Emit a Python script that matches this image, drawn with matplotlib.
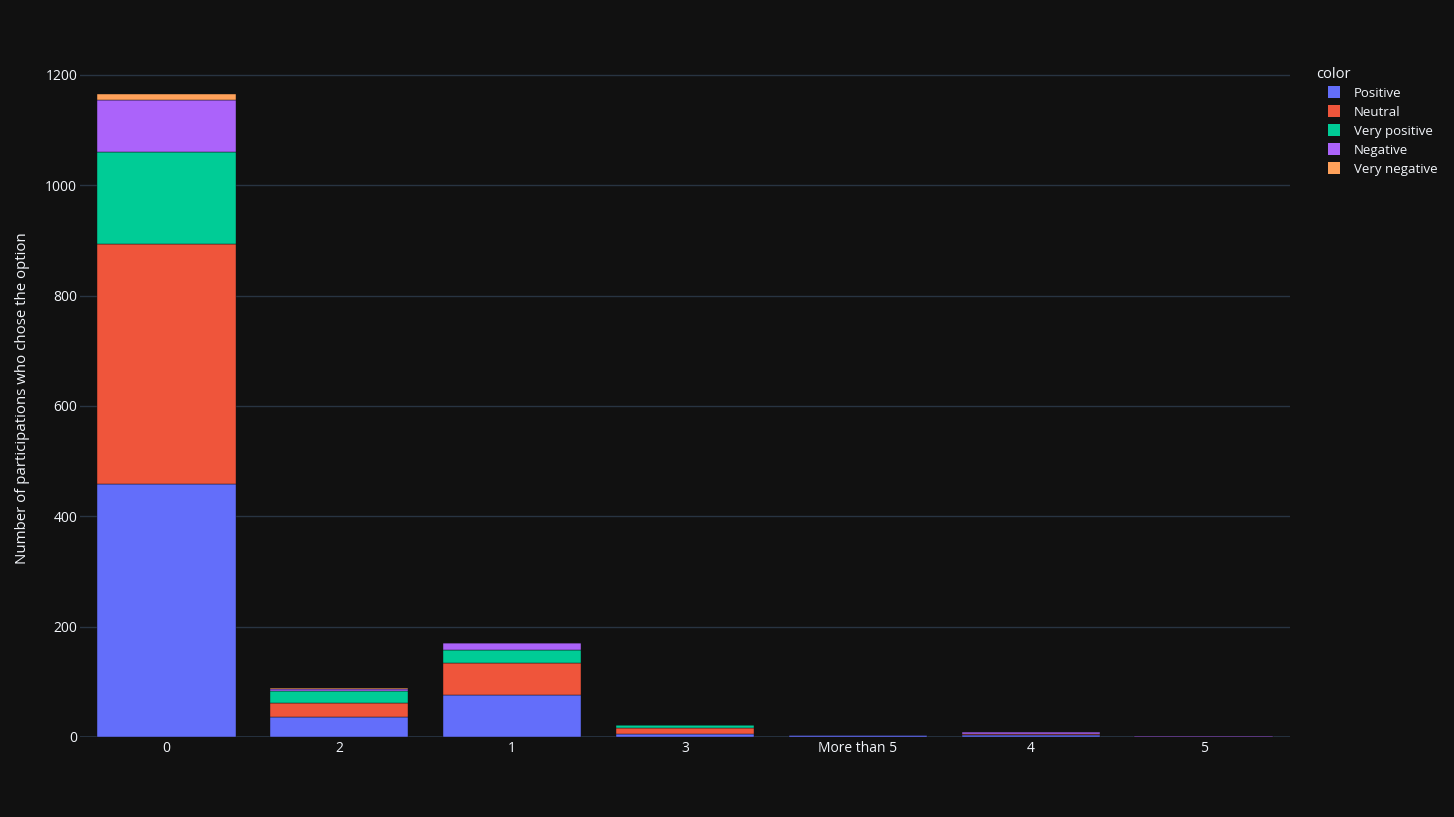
import matplotlib
matplotlib.use("Agg")
import matplotlib.pyplot as plt
from matplotlib.patches import Rectangle
import numpy as np

plt.rcParams['font.family'] = ['Open Sans', 'DejaVu Sans']

# categories in the order they appear on the x axis
options = ['0', '2', '1', '3', 'More than 5', '4', '5']

positive = [459, 36, 76, 6, 3, 3, 0]
neutral = [434, 25, 58, 11, 0, 2, 0]
very_positive = [167, 23, 24, 4, 1, 0, 0]
negative = [95, 3, 12, 0, 0, 4, 1]
very_negative = [11, 2, 1, 0, 0, 0, 0]

series = [
    ('Positive', positive, '#636efa'),
    ('Neutral', neutral, '#EF553B'),
    ('Very positive', very_positive, '#00cc96'),
    ('Negative', negative, '#ab63fa'),
    ('Very negative', very_negative, '#FFA15A'),
]

bg = '#111111'
grid = '#283442'
txt = '#f2f5fa'
W, H = 1454, 817

fig = plt.figure(figsize=(14.54, 8.17), dpi=100, facecolor=bg)
ax = fig.add_axes([80/W, 80/H, (1290-80)/W, (737-60)/H])
ax.set_facecolor(bg)

x = np.arange(len(options))
bottom = np.zeros(len(options))
for name, vals, col in series:
    vals = np.array(vals, dtype=float)
    ax.bar(x, vals, width=0.8, bottom=bottom, color=col,
           edgecolor=bg, linewidth=0.3, label=name, zorder=3)
    bottom += vals

ax.set_xlim(-0.5, len(options) - 0.5)
ax.set_ylim(0, 1227)
ax.set_yticks([0, 200, 400, 600, 800, 1000, 1200])
ax.set_xticks(x)
ax.set_xticklabels(options)
ax.grid(axis='y', color=grid, linewidth=1, zorder=0)
ax.axhline(0, color=grid, linewidth=2, zorder=2)
for s in ax.spines.values():
    s.set_visible(False)
ax.tick_params(axis='both', colors=txt, labelsize=10, length=0)
ax.tick_params(axis='x', pad=3)
ax.tick_params(axis='y', pad=2)
ax.set_ylabel('Number of participations who chose the option', color=txt,
              fontsize=10.8, labelpad=11)

# legend drawn by hand to match the plotly layout
fig.text(1316/W, 1 - 75/H, 'color', color=txt, fontsize=10.5,
         ha='left', va='center')
for i, (name, vals, col) in enumerate(series):
    yc = 92 + 19 * i
    fig.patches.append(Rectangle((1328/W, 1 - (yc + 6)/H), 12/W, 12/H,
                                 transform=fig.transFigure, facecolor=col,
                                 edgecolor='none'))
    fig.text(1354/W, 1 - (yc + 1.5)/H, name, color=txt, fontsize=9.5,
             ha='left', va='center')

fig.savefig('out.png', dpi=100, facecolor=bg)
